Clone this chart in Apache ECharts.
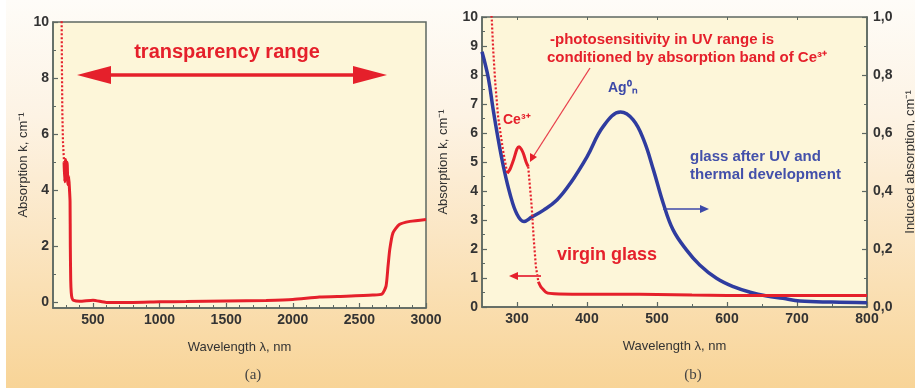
<!DOCTYPE html>
<html><head><meta charset="utf-8">
<script src="https://cdn.jsdelivr.net/npm/echarts@6/dist/echarts.min.js"></script>
<style>html,body{margin:0;padding:0;background:#fff}#c{width:915px;height:388px}</style>
</head><body><div id="c"></div>
<script>
// ---------- Panel (a): absorption over 200–3000 nm ----------
const aDotWl = [262, 265, 267, 270, 275, 283];
const aDotK  = [10.6, 10.0, 8.4, 6.8, 5.7, 5.0];
const aWl = [283, 288, 294, 300, 306, 312, 318, 324, 328, 330, 333, 337, 343, 355, 400, 500, 600, 800, 1000, 1200, 1500, 1800, 2000, 2200, 2400, 2600, 2670, 2700, 2715, 2728, 2752, 2800, 2880, 3000];
const aK  = [5.0, 4.3, 5.1, 4.4, 5.0, 4.2, 4.5, 4.0, 3.6, 2.0, 0.8, 0.35, 0.15, 0.07, 0.04, 0.08, 0.0, 0.0, 0.02, 0.03, 0.05, 0.07, 0.1, 0.19, 0.22, 0.26, 0.3, 0.58, 1.29, 1.89, 2.48, 2.78, 2.89, 2.96];
const aXLabels = [500, 1000, 1500, 2000, 2500, 3000];
const aYLabels = [0, 2, 4, 6, 8, 10];

// ---------- Panel (b): 250–800 nm ----------
// virgin glass (left axis, k cm^-1)
const bRedDot1Wl = [262, 264, 266, 269, 273, 280, 286];
const bRedDot1K  = [10.6, 9.9, 8.86, 7.71, 6.56, 5.41, 4.61];
const bRed1Wl = [286, 290, 295, 300, 303, 306, 309, 313, 316];
const bRed1K  = [4.61, 4.75, 5.07, 5.45, 5.53, 5.45, 5.3, 5.0, 4.84];
const bRedDot2Wl = [316, 321, 324, 327, 330.5];
const bRedDot2K  = [4.84, 3.46, 2.31, 1.39, 0.87];
const bRed2Wl = [330.5, 334, 338, 342, 347, 360, 400, 450, 500, 550, 600, 650, 700, 750, 800];
const bRed2K  = [0.87, 0.7, 0.59, 0.5, 0.47, 0.45, 0.44, 0.44, 0.43, 0.41, 0.4, 0.4, 0.4, 0.4, 0.4];
// glass after UV and thermal development (right axis, induced absorption)
const bBlueWl = [250, 259, 266, 273, 281, 290, 300, 310, 321, 338, 357, 376, 400, 423, 448, 466, 481, 495, 509, 523, 542, 561, 585, 609, 633, 657, 680, 704, 750, 800];
const bBlueA  = [0.88, 0.79, 0.68, 0.58, 0.48, 0.39, 0.32, 0.295, 0.31, 0.334, 0.369, 0.426, 0.518, 0.622, 0.672, 0.645, 0.576, 0.472, 0.357, 0.266, 0.197, 0.145, 0.099, 0.070, 0.051, 0.038, 0.030, 0.021, 0.017, 0.015];
const bXLabels = [300, 400, 500, 600, 700, 800];
const bYLabels = [0, 1, 2, 3, 4, 5, 6, 7, 8, 9, 10];
const bY2Labels = [0, 0.2, 0.4, 0.6, 0.8, 1.0];

const zip = (xs, ys) => xs.map((x, i) => [x, ys[i]]);
const range = (a, b, s) => { const r = []; for (let v = a; v <= b + 1e-9; v += s) r.push(+v.toFixed(4)); return r; };
const minorOf = (all, major) => all.filter(v => !major.some(m => Math.abs(m - v) < 1e-6));

const FONT = '"Liberation Sans", Arial, sans-serif';
const AXIS_C = '#5d6862';
const TXT_C = '#333333';
const RED = '#e5202b';
const BLUE = '#2f3c9f';

function mainAxis(o) {
  return Object.assign({
    type: 'value',
    axisLine: { show: true, onZero: false, lineStyle: { color: AXIS_C, width: 1.5 } },
    axisTick: { show: true, inside: true, length: 5, customValues: o.ticks, lineStyle: { color: AXIS_C, width: 1.2 } },
    axisLabel: { show: o.labels != null, customValues: o.labels, margin: o.margin || 5, color: TXT_C, fontSize: 14, fontWeight: 'bold', fontFamily: FONT, formatter: o.fmt || (v => String(v)) },
    splitLine: { show: false },
    nameLocation: 'middle',
    nameTextStyle: { color: TXT_C, fontSize: 13, fontFamily: FONT }
  }, o.extra);
}
function minorAxis(o) {
  return Object.assign({
    type: 'value',
    axisLine: { show: false, onZero: false },
    axisTick: { show: true, inside: true, length: 3, customValues: o.ticks, lineStyle: { color: AXIS_C, width: 1 } },
    axisLabel: { show: false },
    splitLine: { show: false }
  }, o.extra);
}

const option = {
  animation: false,
  backgroundColor: {
    type: 'linear', x: 0, y: 0, x2: 0, y2: 1,
    colorStops: [
      { offset: 0, color: '#fefcf8' },
      { offset: 0.3, color: '#fdf3e4' },
      { offset: 0.6, color: '#fbe6c4' },
      { offset: 1, color: '#f8d497' }
    ]
  },
  grid: [
    { left: 53, width: 373, top: 22, height: 286, show: true, containLabel: false, outerBoundsMode: 'none', backgroundColor: '#fdf6d9', borderColor: AXIS_C, borderWidth: 1.5 },
    { left: 482, width: 385, top: 17, height: 290, show: true, containLabel: false, outerBoundsMode: 'none', backgroundColor: '#fdf6d9', borderColor: AXIS_C, borderWidth: 1.5 }
  ],
  xAxis: [
    mainAxis({ ticks: aXLabels, labels: aXLabels, extra: { gridIndex: 0, min: 200, max: 3000, position: 'bottom', name: 'Wavelength λ, nm', nameGap: 33 } }),
    minorAxis({ ticks: minorOf(range(300, 2900, 100), aXLabels), extra: { gridIndex: 0, min: 200, max: 3000, position: 'bottom' } }),
    mainAxis({ ticks: bXLabels, labels: bXLabels, extra: { gridIndex: 1, min: 250, max: 800, position: 'bottom', name: 'Wavelength λ, nm', nameGap: 33 } }),
    minorAxis({ ticks: minorOf(range(350, 750, 50), bXLabels), extra: { gridIndex: 1, min: 250, max: 800, position: 'bottom' } }),
    minorAxis({ ticks: bXLabels, extra: { gridIndex: 1, min: 250, max: 800, position: 'top' } })
  ],
  yAxis: [
    mainAxis({ ticks: aYLabels, labels: aYLabels, margin: 4, extra: { gridIndex: 0, min: -0.2, max: 10, position: 'left', name: 'Absorption k, cm⁻¹', nameGap: 23 } }),
    minorAxis({ ticks: [1, 3, 5, 7, 9], extra: { gridIndex: 0, min: -0.2, max: 10, position: 'left' } }),
    mainAxis({ ticks: bYLabels, labels: bYLabels, margin: 4, extra: { gridIndex: 1, min: 0, max: 10, position: 'left', name: 'Absorption k, cm⁻¹', nameGap: 32 } }),
    minorAxis({ ticks: minorOf(range(0.5, 9.5, 0.5), bYLabels), extra: { gridIndex: 1, min: 0, max: 10, position: 'left' } }),
    mainAxis({ ticks: bY2Labels, labels: bY2Labels, margin: 6, fmt: v => v.toFixed(1).replace('.', ','), extra: { gridIndex: 1, min: 0, max: 1, position: 'right', name: 'Induced absorption, cm⁻¹', nameGap: 37, nameRotate: 90 } }),
    minorAxis({ ticks: [0.1, 0.3, 0.5, 0.7, 0.9], extra: { gridIndex: 1, min: 0, max: 1, position: 'right' } })
  ],
  series: [
    { type: 'line', xAxisIndex: 0, yAxisIndex: 0, data: zip(aDotWl, aDotK), showSymbol: false, lineStyle: { color: RED, width: 2.2, type: [2, 2] }, z: 3 },
    { type: 'line', xAxisIndex: 0, yAxisIndex: 0, data: zip(aWl, aK), showSymbol: false, smooth: 0.2, lineStyle: { color: RED, width: 3 }, z: 3 },
    { type: 'line', xAxisIndex: 2, yAxisIndex: 4, data: zip(bBlueWl, bBlueA), showSymbol: false, smooth: 0.4, lineStyle: { color: BLUE, width: 3.5 }, z: 2 },
    { type: 'line', xAxisIndex: 2, yAxisIndex: 2, data: zip(bRedDot1Wl, bRedDot1K), showSymbol: false, lineStyle: { color: RED, width: 2.2, type: [2, 2] }, z: 3 },
    { type: 'line', xAxisIndex: 2, yAxisIndex: 2, data: zip(bRed1Wl, bRed1K), showSymbol: false, smooth: 0.3, lineStyle: { color: RED, width: 3 }, z: 3 },
    { type: 'line', xAxisIndex: 2, yAxisIndex: 2, data: zip(bRedDot2Wl, bRedDot2K), showSymbol: false, lineStyle: { color: RED, width: 2.2, type: [2, 2] }, z: 3 },
    { type: 'line', xAxisIndex: 2, yAxisIndex: 2, data: zip(bRed2Wl, bRed2K), showSymbol: false, smooth: 0.3, lineStyle: { color: RED, width: 3 }, z: 3 }
  ],
  graphic: [
    { type: 'rect', shape: { x: 0, y: 0, width: 6, height: 388 }, style: { fill: '#ffffff' }, silent: true },
    // panel (a) annotation
    { type: 'text', x: 227, y: 52, style: { text: 'transparency range', fill: RED, font: 'bold 20px ' + FONT, textAlign: 'center', textVerticalAlign: 'middle' }, z: 10 },
    { type: 'line', shape: { x1: 105, y1: 75, x2: 358, y2: 75 }, style: { stroke: RED, lineWidth: 3.5 }, z: 10 },
    { type: 'polygon', shape: { points: [[77, 75], [111, 66], [111, 84]] }, style: { fill: RED }, z: 10 },
    { type: 'polygon', shape: { points: [[387, 75], [353, 66], [353, 84]] }, style: { fill: RED }, z: 10 },
    // panel (b) annotations
    { type: 'text', x: 550, y: 40, style: { text: '-photosensitivity in UV range is', fill: RED, font: 'bold 15px ' + FONT, textAlign: 'left', textVerticalAlign: 'middle' }, z: 10 },
    { type: 'text', x: 547, y: 58, style: { text: 'conditioned by absorption band of Ce³⁺', fill: RED, font: 'bold 15px ' + FONT, textAlign: 'left', textVerticalAlign: 'middle' }, z: 10 },
    { type: 'line', shape: { x1: 590, y1: 68, x2: 533, y2: 157 }, style: { stroke: '#e8404c', lineWidth: 1.3 }, z: 10 },
    { type: 'polygon', shape: { points: [[530, 162], [530, 153], [537, 157]] }, style: { fill: RED }, z: 10 },
    { type: 'text', x: 503, y: 120, style: { text: 'Ce³⁺', fill: RED, font: 'bold 14px ' + FONT, textAlign: 'left', textVerticalAlign: 'middle' }, z: 10 },
    { type: 'text', x: 608, y: 88, style: { text: 'Ag⁰ₙ', fill: '#3c49a8', font: 'bold 14px ' + FONT, textAlign: 'left', textVerticalAlign: 'middle' }, z: 10 },
    { type: 'text', x: 690, y: 157, style: { text: 'glass after UV and', fill: '#4350aa', font: 'bold 15px ' + FONT, textAlign: 'left', textVerticalAlign: 'middle' }, z: 10 },
    { type: 'text', x: 690, y: 175, style: { text: 'thermal development', fill: '#4350aa', font: 'bold 15px ' + FONT, textAlign: 'left', textVerticalAlign: 'middle' }, z: 10 },
    { type: 'line', shape: { x1: 663, y1: 209, x2: 702, y2: 209 }, style: { stroke: '#3c49a8', lineWidth: 1.6 }, z: 10 },
    { type: 'polygon', shape: { points: [[709, 209], [700, 205], [700, 213]] }, style: { fill: '#3c49a8' }, z: 10 },
    { type: 'text', x: 557, y: 255, style: { text: 'virgin glass', fill: RED, font: 'bold 18px ' + FONT, textAlign: 'left', textVerticalAlign: 'middle' }, z: 10 },
    { type: 'line', shape: { x1: 541, y1: 276, x2: 516, y2: 276 }, style: { stroke: '#e8404c', lineWidth: 2 }, z: 10 },
    { type: 'polygon', shape: { points: [[509, 276], [518, 272], [518, 280]] }, style: { fill: RED }, z: 10 },
    { type: 'text', x: 253, y: 375, style: { text: '(a)', fill: '#444', font: '15px "Liberation Serif", serif', textAlign: 'center', textVerticalAlign: 'middle' }, z: 10 },
    { type: 'text', x: 693, y: 375, style: { text: '(b)', fill: '#444', font: '15px "Liberation Serif", serif', textAlign: 'center', textVerticalAlign: 'middle' }, z: 10 }
  ]
};
const chart = echarts.init(document.getElementById('c'), null, { renderer: 'canvas' });
chart.setOption(option);
</script></body></html>
